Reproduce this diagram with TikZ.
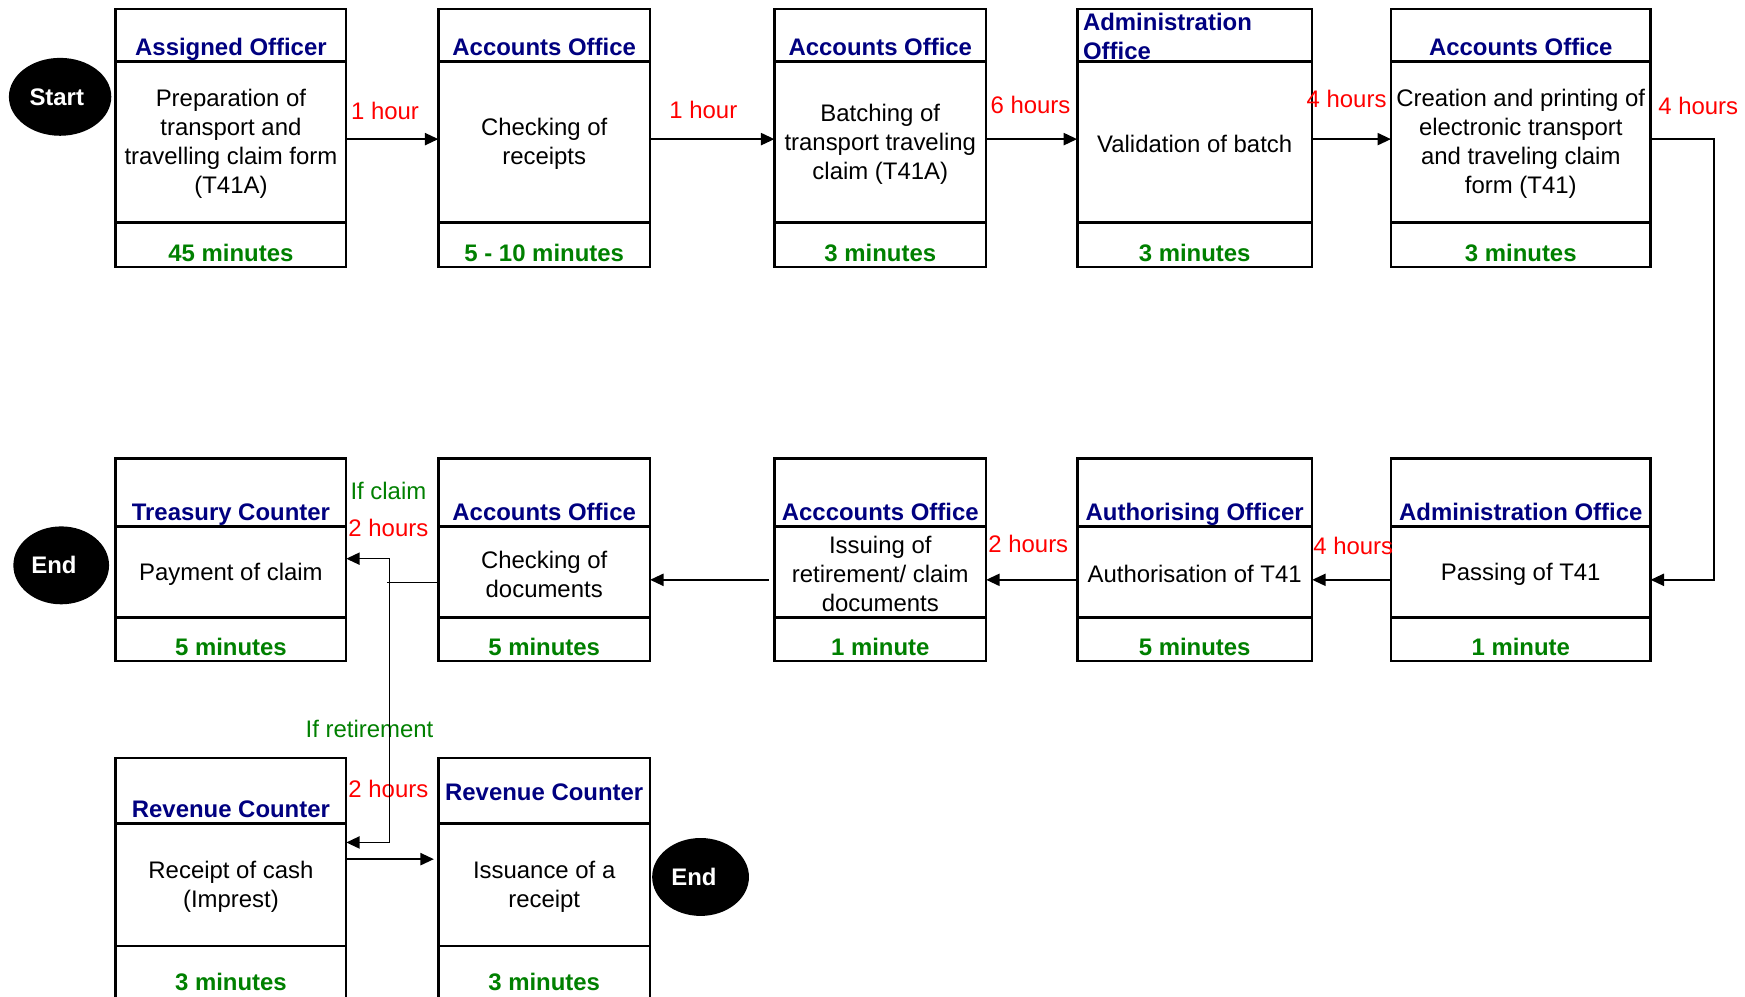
\documentclass[tikz,border=0pt]{standalone}
\usepackage{fontspec}
\setmainfont{Liberation Sans}
\usetikzlibrary{arrows.meta,calc,shapes.geometric}
\definecolor{hdr}{RGB}{0,0,128}
\definecolor{grn}{RGB}{0,128,0}
\definecolor{rd}{RGB}{255,0,0}
\newcommand\pbox[8]{%
  \draw[boxframe] (#2,#4) rectangle (#3,#7) (#2,#5) -- (#3,#5) (#2,#6) -- (#3,#6);
  \node[bodytxt, minimum width={(#3-#2)*1pt}, minimum height={(#6-#5)*1pt}] (#1) at ({(#2+#3)/2},{(#5+#6)/2+2}) {#8};
}
\begin{document}
\begin{tikzpicture}[x=1pt,y=-1pt,
  boxframe/.style={line width=2.4pt},
  bodytxt/.style={inner sep=0pt, align=center, font=\fontsize{21.5}{26}\selectfont},
  hdtxt/.style={inner sep=0pt, align=center, anchor=base, text=hdr, font=\bfseries\fontsize{21.5}{26}\selectfont},
  fttxt/.style={inner sep=0pt, anchor=base, text=grn, font=\bfseries\fontsize{21.5}{26}\selectfont},
  lbl/.style={inner sep=0pt, text=rd, font=\fontsize{21.5}{26}\selectfont},
  glbl/.style={lbl, text=grn},
  termnode/.style={ellipse, fill=black, text=white, inner sep=0pt, font=\bfseries\fontsize{21.5}{26}\selectfont},
  conn/.style={line width=1.3pt},
  arr/.style={conn, -{Triangle[length=12pt,width=11pt]}},
]
\useasboundingbox (0,0) rectangle (1568,895);
\fill[white] (0,0) rectangle (1568,895);
\clip (0,0) rectangle (1568,895);

% terminals
\node[termnode, minimum width=92pt, minimum height=70pt] (start) at (54,87) {Start\rule{6pt}{0pt}};
\node[termnode, minimum width=86pt, minimum height=70pt] (end1) at (55,508) {End\rule{13pt}{0pt}};
\node[termnode, minimum width=87pt, minimum height=70pt] (end2) at (629.5,788) {End\rule{12pt}{0pt}};

% row 1
\pbox{b1}{104}{311}{8}{55}{200}{240}{Preparation of\\transport and\\travelling claim form\\(T41A)}
\pbox{b2}{394}{584}{8}{55}{200}{240}{Checking of\\receipts}
\pbox{b3}{696}{886}{8}{55}{200}{240}{Batching of\\transport traveling\\claim (T41A)}
\pbox{b4}{968}{1179}{8}{55}{200}{240}{Validation of batch}
\pbox{b5}{1250}{1483}{8}{55}{200}{240}{Creation and printing of\\electronic transport\\and traveling claim\\form (T41)}
\node[hdtxt] (b1h) at (207.5,50) {Assigned Officer};
\node[hdtxt] (b2h) at (489,50) {Accounts Office};
\node[hdtxt] (b3h) at (791,50) {Accounts Office};
\node[hdtxt, align=left, anchor=west] (b4h) at (973,32.5) {Administration\\Office};
\node[hdtxt] (b5h) at (1366.5,50) {Accounts Office};
\node[fttxt] (b1f) at (207.5,235) {45 minutes};
\node[fttxt] (b2f) at (489,235) {5 - 10 minutes};
\node[fttxt] (b3f) at (791,235) {3 minutes};
\node[fttxt] (b4f) at (1073.5,235) {3 minutes};
\node[fttxt] (b5f) at (1366.5,235) {3 minutes};

% row 2
\pbox{b6}{104}{311}{412}{473}{555}{594}{Payment of claim}
\pbox{b7}{394}{584}{412}{473}{555}{594}{Checking of\\documents}
\pbox{b8}{696}{886}{412}{473}{555}{594}{Issuing of\\retirement/ claim\\documents}
\pbox{b9}{968}{1179}{412}{473}{555}{594}{Authorisation of T41}
\pbox{b10}{1250}{1483}{412}{473}{555}{594}{Passing of T41}
\node[hdtxt] (b6h) at (207.5,468) {Treasury Counter};
\node[hdtxt] (b7h) at (489,468) {Accounts Office};
\node[hdtxt] (b8h) at (791,468) {Acccounts Office};
\node[hdtxt] (b9h) at (1073.5,468) {Authorising Officer};
\node[hdtxt] (b10h) at (1366.5,468) {Administration Office};
\node[fttxt] (b6f) at (207.5,589) {5 minutes};
\node[fttxt] (b7f) at (489,589) {5 minutes};
\node[fttxt] (b8f) at (791,589) {1 minute};
\node[fttxt] (b9f) at (1073.5,589) {5 minutes};
\node[fttxt] (b10f) at (1366.5,589) {1 minute};

% row 3
\pbox{b11}{104}{311}{681}{740}{850}{915}{Receipt of cash\\(Imprest)}
\pbox{b12}{394}{584}{681}{740}{850}{915}{Issuance of a\\receipt}
\node[hdtxt] (b11h) at (207.5,735) {Revenue Counter};
\node[hdtxt] (b12h) at (489,719) {Revenue Counter};
\node[fttxt] (b11f) at (207.5,890) {3 minutes};
\node[fttxt] (b12f) at (489,890) {3 minutes};

% labels
\node[lbl] (l1) at (346,100) {1 hour};
\node[lbl] (l2) at (632,99) {1 hour};
\node[lbl] (l3) at (926,94) {6 hours};
\node[lbl] (l4) at (1210,89) {4 hours};
\node[lbl] (l5) at (1526,95) {4 hours};
\node[lbl] (l6) at (924,489) {2 hours};
\node[lbl] (l7) at (1216,491) {4 hours};
\node[glbl] (l8) at (349,441) {If claim};
\node[lbl] (l9) at (349,474) {2 hours};
\node[glbl] (l10) at (332,655) {If retirement};
\node[lbl] (l11) at (349,709) {2 hours};

% connectors
\draw[arr] ([yshift=4.5pt]b1.east) -- ([yshift=4.5pt]b2.west);
\draw[arr] ([yshift=4.5pt]b2.east) -- ([yshift=4.5pt]b3.west);
\draw[arr] ([yshift=4.5pt]b3.east) -- ([yshift=4.5pt]b4.west);
\draw[arr] ([yshift=4.5pt]b4.east) -- ([yshift=4.5pt]b5.west);
\draw[arr] ([yshift=4.5pt]b5.east) -- ++(57,0) |- ([yshift=-5pt]b10.east);
\draw[arr] ([yshift=-5pt]b10.west) -- ([yshift=-5pt]b9.east);
\draw[arr] ([yshift=-5pt]b9.west) -- ([yshift=-5pt]b8.east);
\draw[arr] ([yshift=-5pt,xshift=-5pt]b8.west) -- ([yshift=-5pt]b7.east);
\coordinate (j) at (348,523.5);
\draw[conn] ([yshift=-7.5pt]b7.west) -- (j);
\draw[arr] ([xshift=2pt]j) |- ([yshift=14pt]b6.east);
\draw[arr] ([xshift=2pt]j) |- ([yshift=40pt]b11.east);
\draw[arr] ([yshift=25pt]b11.east) -- ([yshift=25pt,xshift=-4pt]b12.west);
\end{tikzpicture}
\end{document}
